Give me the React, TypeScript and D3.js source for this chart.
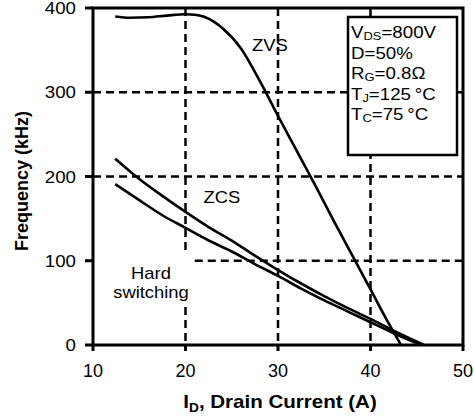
import * as d3 from "d3";

const xTicks = [10, 20, 30, 40, 50];
const yTicks = [0, 100, 200, 300, 400];

const zvsCurrent = [12.4, 14, 16, 18, 20, 21, 22, 24, 26, 28, 30, 32, 34, 36, 38, 40, 42, 43.3];
const zvsFreq = [390, 388.5, 389, 391, 392.5, 392, 389.5, 376, 352, 314, 272, 231, 190, 148, 107, 66, 25, 0];

const zcsCurrent = [12.4, 15, 17.5, 20, 22.5, 25, 27.5, 30, 32.5, 35, 37.5, 40, 42.5, 45.8];
const zcsFreq = [221, 197, 177, 158, 140, 124, 106, 89, 73, 58, 44, 31, 17, 0];

const hardCurrent = [12.4, 15, 17.5, 20, 22.5, 25, 27.5, 30, 32.5, 35, 37.5, 40, 42.5, 45.5];
const hardFreq = [191, 172, 154, 139, 124, 111, 96, 82, 67, 53, 40, 27, 14, 0];

const conditions: [string, string, string][] = [
  ["V", "DS", "=800V"],
  ["D=50%", "", ""],
  ["R", "G", "=0.8Ω"],
  ["T", "J", "=125\u2009°C"],
  ["T", "C", "=75\u2009°C"],
];

const font = "'Liberation Sans', Arial, sans-serif";

// the source picture is a bit wider than tall, text looks stretched
const Stretch = ({ x, y, sx, children, ...rest }: any) => (
  <text transform={`translate(${x},${y}) scale(${sx},1)`} {...rest}>
    {children}
  </text>
);

export default function App() {
  const x = d3.scaleLinear().domain([10, 50]).range([93, 463]);
  const y = d3.scaleLinear().domain([0, 400]).range([345, 8]);

  const line = d3
    .line<[number, number]>()
    .x((d) => x(d[0]))
    .y((d) => y(d[1]))
    .curve(d3.curveMonotoneX);

  const series = [
    zvsCurrent.map((c, i) => [c, zvsFreq[i]] as [number, number]),
    zcsCurrent.map((c, i) => [c, zcsFreq[i]] as [number, number]),
    hardCurrent.map((c, i) => [c, hardFreq[i]] as [number, number]),
  ];

  const dash = { stroke: "#000", strokeWidth: 2.5, strokeDasharray: "8,5", fill: "none" };

  const bx = 348, by = 17, bw = 109, bh = 138;

  return (
    <svg width={474} height={417} style={{ position: "absolute", left: 0, top: 0, background: "#fff" }} fontFamily={font}>
      {/* grid */}
      <line x1={x(20)} x2={x(20)} y1={y(400)} y2={y(107)} {...dash} />
      <line x1={x(20)} x2={x(20)} y1={y(45)} y2={y(0)} {...dash} />
      <line x1={x(30)} x2={x(30)} y1={y(400)} y2={y(0)} {...dash} />
      <line x1={x(40)} x2={x(40)} y1={y(400)} y2={y(0)} {...dash} />
      <line x1={x(21)} x2={x(50)} y1={y(100)} y2={y(100)} {...dash} />
      <line x1={x(10)} x2={x(50)} y1={y(200)} y2={y(200)} {...dash} />
      <line x1={x(10)} x2={x(50)} y1={y(300)} y2={y(300)} {...dash} />

      {/* curves */}
      {series.map((s, i) => (
        <path key={i} d={line(s) ?? ""} fill="none" stroke="#000" strokeWidth={2.6} />
      ))}

      {/* frame */}
      <rect x={x(10)} y={y(400)} width={x(50) - x(10)} height={y(0) - y(400)} fill="none" stroke="#000" strokeWidth={3} />

      {/* ticks */}
      {yTicks.map((t) => (
        <g key={"y" + t}>
          <line x1={x(10) - 8} x2={x(10)} y1={y(t)} y2={y(t)} stroke="#000" strokeWidth={3} />
          <Stretch x={76} y={y(t) + 6} sx={1.1} fontSize={17} textAnchor="end">{t}</Stretch>
        </g>
      ))}
      {xTicks.map((t) => (
        <g key={"x" + t}>
          <line x1={x(t)} x2={x(t)} y1={y(0)} y2={y(0) + 6} stroke="#000" strokeWidth={3} />
          <text x={x(t)} y={377} fontSize={18} textAnchor="middle">{t}</text>
        </g>
      ))}

      {/* axis titles */}
      <Stretch x={280} y={408} sx={1.14} fontSize={18} fontWeight="bold" textAnchor="middle">
        I<tspan fontSize={12} dy={4}>D</tspan>
        <tspan dy={-4}>, Drain Current (A)</tspan>
      </Stretch>
      <text transform="translate(28,181) rotate(-90)" fontSize={18} fontWeight="bold" textAnchor="middle">
        Frequency (kHz)
      </text>

      {/* region labels */}
      <Stretch x={270} y={51} sx={1.15} fontSize={16} textAnchor="middle">ZVS</Stretch>
      <Stretch x={222} y={203} sx={1.15} fontSize={16} textAnchor="middle">ZCS</Stretch>
      <Stretch x={151} y={279} sx={1.15} fontSize={16} textAnchor="middle">Hard</Stretch>
      <Stretch x={151} y={298} sx={1.15} fontSize={16} textAnchor="middle">switching</Stretch>

      {/* conditions box */}
      <rect x={bx} y={by} width={bw} height={bh} fill="#fff" stroke="#000" strokeWidth={2.5} />
      {conditions.map((l, i) => (
        <Stretch key={i} x={bx + 3} y={38 + i * 20.5} sx={1.17} fontSize={16}>
          {l[0]}
          {l[1] && <tspan fontSize={11} dy={2}>{l[1]}</tspan>}
          {l[2] && <tspan dy={l[1] ? -2 : 0}>{l[2]}</tspan>}
        </Stretch>
      ))}
    </svg>
  );
}
